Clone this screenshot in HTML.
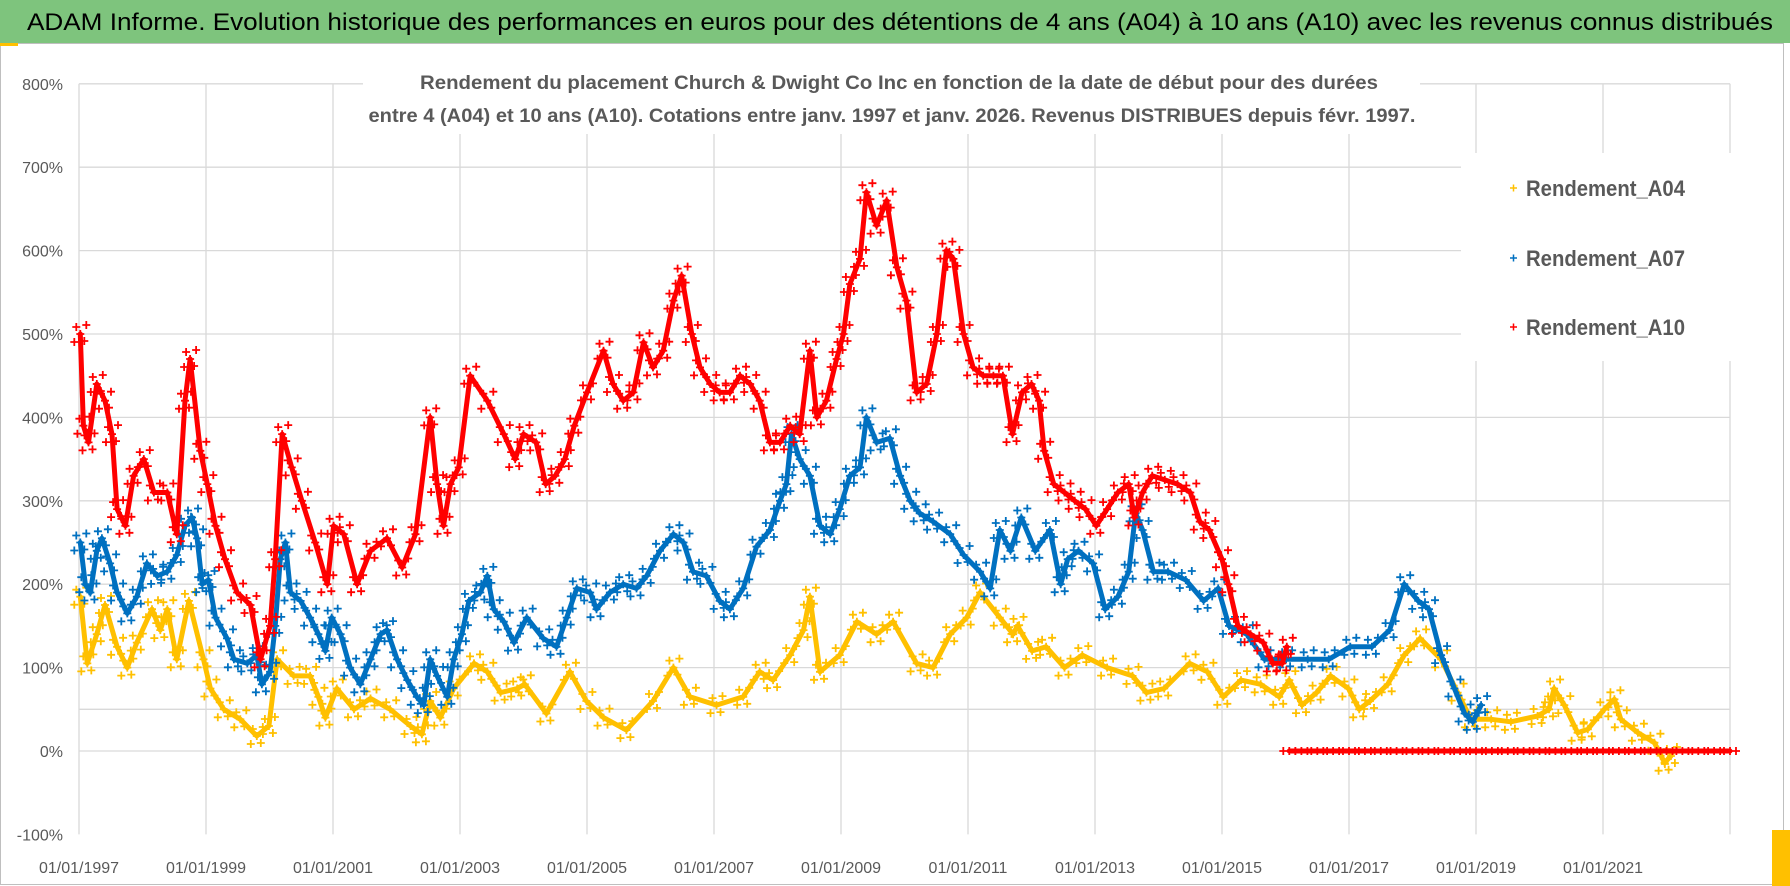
<!DOCTYPE html>
<html><head><meta charset="utf-8"><title>ADAM Informe chart</title>
<style>
html,body{margin:0;padding:0;background:#fff;}
svg{display:block;font-family:"Liberation Sans",sans-serif;}
</style></head>
<body>
<svg id="chart" width="1790" height="886" viewBox="0 0 1790 886">
  <rect x="0" y="0" width="1790" height="886" fill="#ffffff"/>
  <rect x="0" y="0" width="1790" height="43" fill="#7ec47d"/>
  <text x="27" y="30" font-size="24" fill="#000" textLength="1746" lengthAdjust="spacingAndGlyphs">ADAM Informe. Evolution historique des performances en euros pour des détentions de 4 ans (A04) à 10 ans (A10) avec les revenus connus distribués</text>
  <rect x="0.5" y="43.5" width="1783" height="841" fill="none" stroke="#bfbfbf" stroke-width="1"/>
  <rect x="0" y="43" width="18" height="3" fill="#ffc000"/>
  <rect x="1772" y="830" width="18" height="56" fill="#ffc000"/>
  <g id="grid"></g>
  <rect x="363" y="44" width="1057" height="90" fill="#fff"/>
  <rect x="1461" y="153" width="322" height="208" fill="#fff"/>
  <g id="axes"></g>
  <g id="series"></g>
  <text x="899" y="89" font-size="19" font-weight="bold" fill="#595959" text-anchor="middle" textLength="958" lengthAdjust="spacingAndGlyphs">Rendement du placement Church &amp; Dwight Co Inc en fonction de la date de début pour des durées</text>
  <text x="892" y="122" font-size="19" font-weight="bold" fill="#595959" text-anchor="middle" textLength="1047" lengthAdjust="spacingAndGlyphs">entre 4 (A04) et 10 ans (A10). Cotations entre janv. 1997 et janv. 2026. Revenus DISTRIBUES depuis févr. 1997.</text>
  <g id="legend"></g>
</svg>
<script>
const yTicks = [800,700,600,500,400,300,200,100,0,-100];
const yTickLabels = ["800%","700%","600%","500%","400%","300%","200%","100%","0%","-100%"];
const xTickYears = [1997,1999,2001,2003,2005,2007,2009,2011,2013,2015,2017,2019,2021,2023];
const xTickLabels = ["01/01/1997","01/01/1999","01/01/2001","01/01/2003","01/01/2005","01/01/2007","01/01/2009","01/01/2011","01/01/2013","01/01/2015","01/01/2017","01/01/2019","01/01/2021",""];
const seriesNames = ["Rendement_A04","Rendement_A07","Rendement_A10"];

const a04Years = [1997.02,1997.13,1997.28,1997.41,1997.60,1997.76,1997.91,1998.15,1998.28,1998.39,1998.54,1998.73,1998.96,1999.07,1999.28,1999.54,1999.80,1999.99,2000.12,2000.38,2000.64,2000.77,2000.88,2001.06,2001.33,2001.59,2001.90,2002.22,2002.40,2002.53,2002.69,2002.90,2003.22,2003.43,2003.64,2003.90,2004.02,2004.36,2004.73,2004.99,2005.26,2005.62,2006.04,2006.36,2006.62,2007.04,2007.46,2007.72,2007.93,2008.20,2008.41,2008.51,2008.67,2008.98,2009.25,2009.56,2009.82,2010.19,2010.45,2010.72,2010.98,2011.19,2011.50,2011.71,2011.78,2012.01,2012.23,2012.52,2012.80,2013.19,2013.59,2013.81,2014.09,2014.49,2014.77,2015.02,2015.30,2015.61,2015.90,2016.06,2016.26,2016.49,2016.71,2016.99,2017.16,2017.33,2017.61,2017.87,2018.12,2018.45,2018.71,2018.92,2019.24,2019.55,2019.97,2020.15,2020.23,2020.39,2020.60,2020.76,2021.02,2021.18,2021.28,2021.55,2021.81,2021.97,2022.07];
const a04Values = [185,105,140,175,125,100,130,170,145,170,110,180,110,75,50,38,18,30,110,90,90,65,40,75,50,63,50,30,20,60,40,75,105,95,70,75,80,45,95,60,40,25,60,100,65,55,65,95,85,115,145,185,95,115,155,140,155,105,100,140,160,190,160,140,150,120,125,100,115,100,90,70,75,105,95,65,85,80,65,85,55,70,90,75,50,60,80,115,135,110,70,38,38,35,42,50,75,55,22,26,50,62,38,22,10,-14,-6];

const a07Years = [1997.02,1997.10,1997.18,1997.28,1997.36,1997.49,1997.60,1997.76,1997.91,1998.07,1998.23,1998.39,1998.54,1998.67,1998.78,1998.86,1998.94,1999.04,1999.15,1999.33,1999.44,1999.65,1999.80,1999.88,2000.01,2000.09,2000.17,2000.25,2000.33,2000.49,2000.64,2000.77,2000.88,2000.98,2001.12,2001.27,2001.43,2001.59,2001.75,2001.85,2002.01,2002.17,2002.32,2002.43,2002.53,2002.64,2002.80,2002.90,2003.03,2003.14,2003.32,2003.43,2003.53,2003.69,2003.85,2004.05,2004.31,2004.52,2004.68,2004.84,2005.05,2005.15,2005.36,2005.57,2005.78,2005.94,2006.15,2006.36,2006.52,2006.67,2006.88,2007.09,2007.25,2007.46,2007.67,2007.88,2008.04,2008.14,2008.22,2008.35,2008.51,2008.67,2008.83,2008.98,2009.14,2009.30,2009.40,2009.56,2009.77,2009.93,2010.09,2010.24,2010.45,2010.72,2010.93,2011.19,2011.35,2011.50,2011.67,2011.84,2012.06,2012.29,2012.46,2012.57,2012.74,2012.97,2013.16,2013.36,2013.53,2013.64,2013.75,2013.92,2014.15,2014.43,2014.71,2014.94,2015.11,2015.39,2015.67,2016.01,2016.35,2016.68,2017.02,2017.36,2017.64,2017.87,2018.09,2018.26,2018.45,2018.66,2018.82,2018.95,2019.08];
const a07Values = [250,200,190,240,255,225,190,165,185,225,210,215,235,270,280,255,200,205,160,135,110,105,115,80,95,150,230,250,190,180,160,140,120,160,140,100,80,110,140,145,110,85,65,55,110,90,65,110,140,180,190,210,170,155,130,160,135,125,160,195,190,170,190,200,195,210,240,260,250,215,210,180,170,195,245,265,300,320,380,350,330,270,260,290,330,340,400,370,375,330,300,285,275,260,235,215,195,265,240,280,240,265,200,230,240,225,170,185,215,285,265,215,215,205,180,195,150,140,110,110,110,110,125,125,145,200,180,170,115,75,45,35,55];

const a10Years = [1997.02,1997.07,1997.15,1997.28,1997.41,1997.52,1997.60,1997.73,1997.86,1998.02,1998.18,1998.39,1998.54,1998.67,1998.75,1998.91,1999.02,1999.15,1999.30,1999.49,1999.70,1999.86,2000.01,2000.09,2000.20,2000.35,2000.51,2000.72,2000.91,2001.01,2001.17,2001.38,2001.59,2001.85,2002.09,2002.30,2002.53,2002.64,2002.74,2002.85,2002.98,2003.16,2003.43,2003.69,2003.87,2004.00,2004.20,2004.35,2004.50,2004.65,2004.80,2005.00,2005.26,2005.41,2005.57,2005.73,2005.89,2006.04,2006.20,2006.36,2006.49,2006.65,2006.78,2006.94,2007.09,2007.25,2007.41,2007.57,2007.72,2007.88,2008.04,2008.20,2008.35,2008.51,2008.62,2008.77,2008.93,2009.04,2009.14,2009.30,2009.40,2009.56,2009.72,2009.88,2010.03,2010.19,2010.35,2010.51,2010.66,2010.77,2010.93,2011.08,2011.24,2011.40,2011.55,2011.70,2011.85,2012.00,2012.12,2012.20,2012.35,2012.52,2012.68,2012.85,2013.02,2013.19,2013.36,2013.53,2013.62,2013.75,2013.90,2014.10,2014.30,2014.50,2014.65,2014.80,2015.00,2015.10,2015.25,2015.45,2015.65,2015.80,2015.95,2016.02,2016.06,2016.25,2016.50,2016.75,2017.00,2017.25,2017.50,2017.75,2018.00,2018.25,2018.50,2018.75,2019.00,2019.25,2019.50,2019.75,2020.00,2020.25,2020.50,2020.75,2021.00,2021.25,2021.50,2021.75,2022.00,2022.25,2022.50,2022.75,2023.00];
const a10Values = [500,390,370,440,420,380,290,270,330,350,310,310,260,420,470,360,320,270,230,190,175,110,150,230,380,340,300,250,200,270,260,200,240,255,220,260,400,320,270,320,340,450,420,380,350,380,370,320,330,350,390,430,480,440,420,430,490,460,480,540,570,500,460,440,430,430,450,440,420,370,370,390,380,480,400,420,470,500,560,590,670,630,660,580,540,430,440,500,600,590,500,460,450,450,450,380,430,440,420,360,320,310,300,290,270,290,310,320,280,310,330,325,320,310,275,265,230,200,150,140,130,105,105,125,0,0,0,0,0,0,0,0,0,0,0,0,0,0,0,0,0,0,0,0,0,0,0,0,0,0,0,0,0];

const NS = "http://www.w3.org/2000/svg";
const X0 = 79, PX_PER_YEAR = 63.5, Y0 = 751, PX_PER_PCT = 0.834;
function xScale(year){ return X0 + (year - 1997) * PX_PER_YEAR; }
function yScale(pct){ return Y0 - pct * PX_PER_PCT; }
function mk(tag, attrs, parent){
  const el = document.createElementNS(NS, tag);
  for (const k in attrs) el.setAttribute(k, attrs[k]);
  parent.appendChild(el);
  return el;
}
const grid = document.getElementById('grid');
const axes = document.getElementById('axes');
const plotLeft = xScale(1997), plotRight = xScale(2023);

yTicks.forEach((v, i) => {
  if (v === -100) return;
  const gl = mk('line', {x1: plotLeft, x2: plotRight, y1: yScale(v), y2: yScale(v), stroke: '#d9d9d9', 'stroke-width': 1.3}, grid);
  
  
});
const half = mk('line', {x1: plotLeft, x2: plotRight, y1: yScale(50), y2: yScale(50), stroke: '#d9d9d9', 'stroke-width': 1.3}, grid);


xTickYears.forEach(yr => {
  const gl = mk('line', {x1: xScale(yr), x2: xScale(yr), y1: yScale(800), y2: yScale(-100), stroke: '#d9d9d9', 'stroke-width': 1.3}, grid);
  
  
});
yTicks.forEach((v, i) => {
  const t = mk('text', {x: 63, y: yScale(v) + 6, 'font-size': 16, fill: '#595959', 'text-anchor': 'end'}, axes);
  t.textContent = yTickLabels[i];
  
  
});
xTickYears.forEach((yr, i) => {
  if (!xTickLabels[i]) return;
  const t = mk('text', {x: xScale(yr), y: 873, 'font-size': 16, fill: '#595959', 'text-anchor': 'middle'}, axes);
  t.textContent = xTickLabels[i];
  
  
});

const seriesLayer = document.getElementById('series');
function drawSeries(years, values, color, name){
  const g = mk('g', {}, seriesLayer);
  
  
  // split band where series jumps to the flat zero segment
  const segs = [[]];
  years.forEach((yr, i) => {
    if (i > 0 && values[i] === 0 && values[i-1] > 50) segs.push([]);
    segs[segs.length-1].push(xScale(yr).toFixed(1) + ',' + yScale(values[i]).toFixed(1));
  });
  segs.forEach(s => {
    const pl = mk('polyline', {points: s.join(' '), fill: 'none', stroke: color, 'stroke-width': 5, 'stroke-linejoin': 'round', 'stroke-linecap': 'round'}, g);
    
    
  });
  let d = '';
  years.forEach((yr, i) => {
    const x = xScale(yr), y = yScale(values[i]);
    const offs = values[i] === 0 ? [[0,0],[6,0],[-6,0]] : [[0,0],[6,-9],[-6,8],[4,7],[-4,-7]];
    offs.forEach(o => {
      const cx = x + o[0], cy = y + o[1];
      d += 'M' + (cx - 4).toFixed(1) + ' ' + cy.toFixed(1) + 'h8M' + cx.toFixed(1) + ' ' + (cy - 4).toFixed(1) + 'v8';
    });
  });
  const mp = mk('path', {d: d, stroke: color, 'stroke-width': 1.8, fill: 'none'}, g);
  
  
}
drawSeries(a04Years, a04Values, '#ffc000', 'series-a04');
drawSeries(a07Years, a07Values, '#0070c0', 'series-a07');
drawSeries(a10Years, a10Values, '#ff0000', 'series-a10');

const legend = document.getElementById('legend');
const legendColors = ['#ffc000', '#0070c0', '#ff0000'];
const legendY = [188, 258, 327];
seriesNames.forEach((n, i) => {
  const g = mk('g', {}, legend);
  
  
  mk('path', {d: 'M1510 ' + legendY[i] + 'h7M1513.5 ' + (legendY[i] - 3.5) + 'v7', stroke: legendColors[i], 'stroke-width': 1.5}, g);
  const t = mk('text', {x: 1526, y: legendY[i] + 8, 'font-size': 22, 'font-weight': 'bold', fill: '#595959', textLength: 159, lengthAdjust: 'spacingAndGlyphs'}, g);
  t.textContent = n;
});
</script>
</body></html>
